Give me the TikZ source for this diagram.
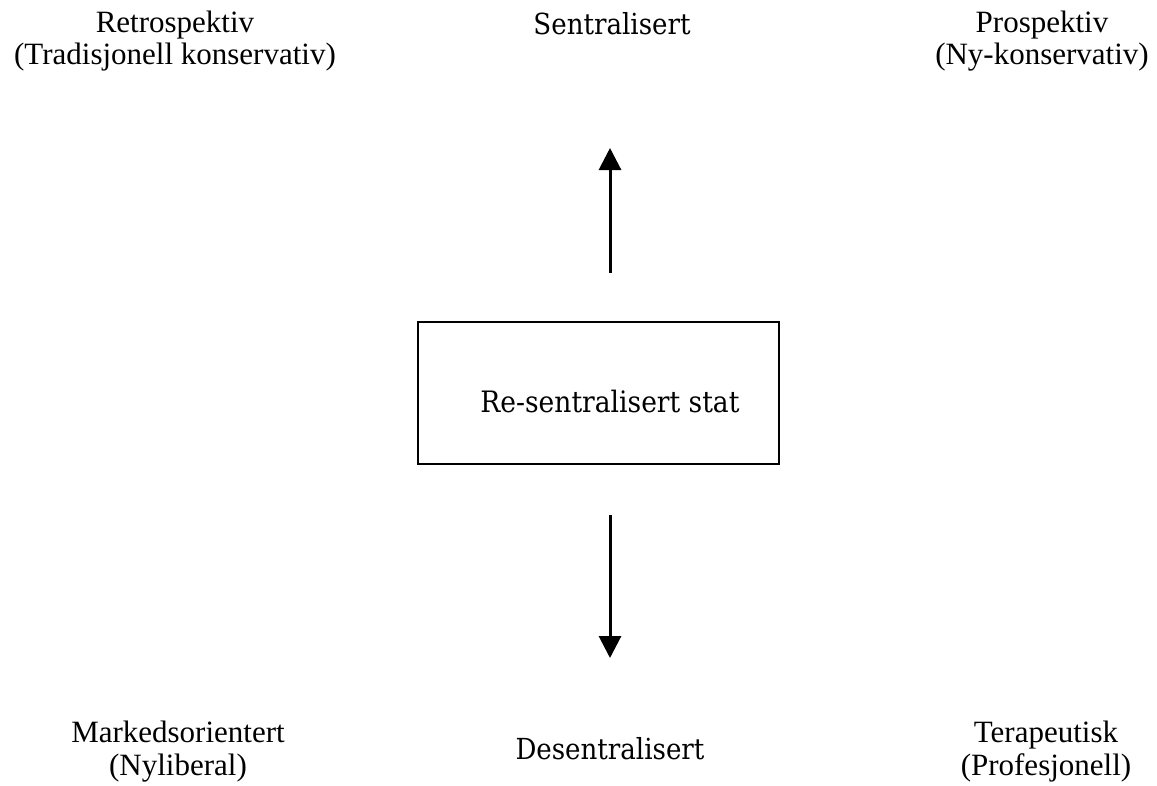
\documentclass[tikz,border=0pt]{standalone}
\usepackage{fontspec}
\setmainfont{Liberation Serif}
\newfontfamily\boxfont{DejaVu Serif Condensed}
\usetikzlibrary{arrows.meta}

\begin{document}
\begin{tikzpicture}[x=1pt,y=1pt]

		% Page frame
		\useasboundingbox (0,0) rectangle (1157,-785);

		% Coordinates (pixel positions of the sketch)
		\coordinate (upstart) at (610,-273);
		\coordinate (uptip) at (610,-148);
		\coordinate (downstart) at (610,-515);
		\coordinate (downtip) at (610,-658);

		% Central box
		\draw[line width=1.5pt] (418,-322) rectangle (779,-464);
		\node[font=\boxfont\fontsize{29.5}{34}\selectfont] (stat) at (610,-401) {Re-sentralisert stat};

		% Arrows (black)
		\draw[line width=3pt, -{Triangle[width=22pt,length=22pt]}] (upstart) -- (uptip);
		\draw[line width=3pt, -{Triangle[width=22pt,length=22pt]}] (downstart) -- (downtip);

		% Axis labels
		\node[font=\boxfont\fontsize{29}{34}\selectfont] (sentral) at (612,-24) {Sentralisert};
		\node[font=\boxfont\fontsize{29}{34}\selectfont] (desentral) at (610,-749) {Desentralisert};

		% Corner labels
		\node[align=center, font=\fontsize{31}{32}\selectfont] (retro) at (175,-41) {Retrospektiv\\(Tradisjonell konservativ)};
		\node[align=center, font=\fontsize{31}{32}\selectfont] (prosp) at (1042,-41) {Prospektiv\\(Ny-konservativ)};
		\node[align=center, font=\fontsize{31}{33}\selectfont] (marked) at (178,-752) {Markedsorientert\\(Nyliberal)};
		\node[align=center, font=\fontsize{31}{33}\selectfont] (terap) at (1046,-752) {Terapeutisk\\(Profesjonell)};

	\end{tikzpicture}
\end{document}
